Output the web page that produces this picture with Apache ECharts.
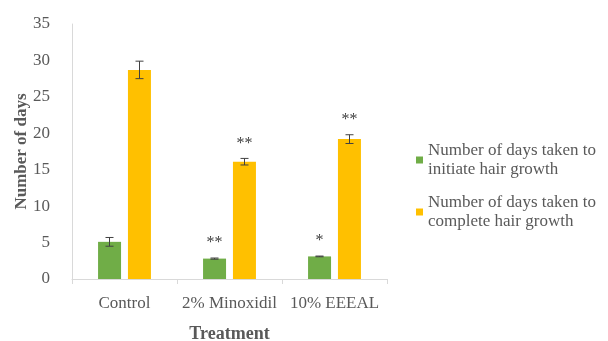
<!DOCTYPE html>
<html>
<head>
<meta charset="utf-8">
<script src="https://cdn.jsdelivr.net/npm/echarts@6/dist/echarts.min.js"></script>
<style>html,body{margin:0;padding:0;background:#fff}#main{width:608px;height:341px}</style>
</head>
<body>
<div id="main"></div>
<script>
var categories = ['Control', '2% Minoxidil', '10% EEEAL'];
var initiateDays = [5.1, 2.8, 3.1];
var initiateErr = [0.6, 0.08, 0.05];
var initiateStars = ['', '**', '*'];
var completeDays = [28.7, 16.1, 19.2];
var completeErr = [1.2, 0.45, 0.6];
var completeStars = ['', '**', '**'];
var yTicks = [0, 5, 10, 15, 20, 25, 30, 35];

var serif = '"Liberation Serif", "DejaVu Serif", serif';
var names = ['Number of days taken to\ninitiate hair growth', 'Number of days taken to\ncomplete hair growth'];

var myChart = echarts.init(document.getElementById('main'));

// error bars + significance stars, drawn on top of the bars
function errSeries(vals, errs, stars, offset) {
    return {
        type: 'custom',
        z: 5,
        silent: true,
        data: vals.map(function (v, i) { return [i, v, errs[i]]; }),
        renderItem: function (params, api) {
            var i = api.value(0), v = api.value(1), e = api.value(2);
            var s = stars[params.dataIndex];
            var hi = api.coord([i, v + e]);
            var lo = api.coord([i, v - e]);
            var x = hi[0] + offset;
            var style = { stroke: '#404040', lineWidth: 1 };
            var kids = [
                { type: 'line', shape: { x1: x, y1: hi[1], x2: x, y2: lo[1] }, style: style },
                { type: 'line', shape: { x1: x - 4, y1: hi[1], x2: x + 4, y2: hi[1] }, style: style },
                { type: 'line', shape: { x1: x - 4, y1: lo[1], x2: x + 4, y2: lo[1] }, style: style }
            ];
            if (s) {
                kids.push({
                    type: 'text',
                    style: { text: s, x: x, y: hi[1] - 15, align: 'center', verticalAlign: 'middle', fill: '#404040', font: '16px ' + serif }
                });
            }
            return { type: 'group', children: kids };
        }
    };
}

var option = {
    animation: false,
    grid: { left: 72, right: 221, top: 24, bottom: 62, outerBoundsMode: 'none', containLabel: false },
    legend: {
        orient: 'vertical',
        left: 411,
        top: 136,
        itemWidth: 7,
        itemHeight: 7,
        itemGap: 14,
        icon: 'rect',
        data: names,
        textStyle: { fontFamily: serif, fontSize: 17, color: '#595959', lineHeight: 19 }
    },
    xAxis: {
        type: 'category',
        data: categories,
        name: 'Treatment',
        nameLocation: 'middle',
        nameGap: 46,
        nameMoveOverlap: false,
        nameTextStyle: { fontFamily: serif, fontSize: 18, fontWeight: 'bold', color: '#595959' },
        axisLine: { lineStyle: { color: '#d9d9d9' } },
        axisTick: { show: true, length: 5, lineStyle: { color: '#d9d9d9' } },
        axisLabel: { interval: 0, fontFamily: serif, fontSize: 17, color: '#595959', margin: 16 }
    },
    yAxis: {
        type: 'value',
        min: 0,
        max: 35,
        interval: 5,
        name: 'Number of days',
        nameLocation: 'middle',
        nameGap: 42,
        nameMoveOverlap: false,
        nameTextStyle: { fontFamily: serif, fontSize: 17, fontWeight: 'bold', color: '#595959' },
        axisLine: { show: true, lineStyle: { color: '#d9d9d9' } },
        axisTick: { show: false },
        splitLine: { show: false },
        axisLabel: {
            fontFamily: serif, fontSize: 17, color: '#595959', margin: 22,
            formatter: function (v) { return yTicks.indexOf(v) >= 0 ? String(v) : ''; }
        }
    },
    series: [
        { name: names[0], type: 'bar', data: initiateDays, barWidth: 23, barGap: '30%', itemStyle: { color: '#70ad47' } },
        { name: names[1], type: 'bar', data: completeDays, barWidth: 23, barGap: '30%', itemStyle: { color: '#ffc000' } },
        errSeries(initiateDays, initiateErr, initiateStars, -15),
        errSeries(completeDays, completeErr, completeStars, 15)
    ]
};

myChart.setOption(option);
</script>
</body>
</html>
